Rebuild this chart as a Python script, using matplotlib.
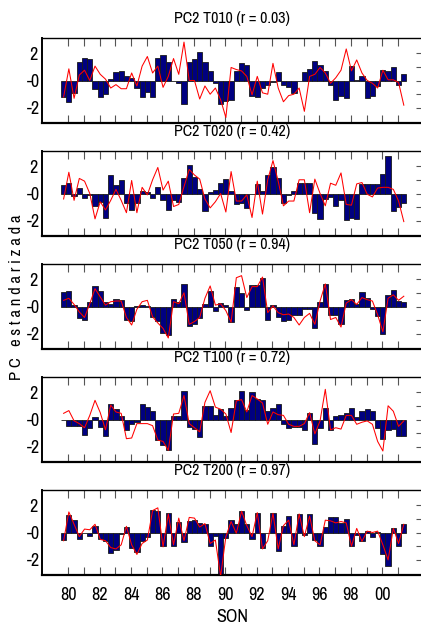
import numpy as np
import matplotlib.pyplot as plt
from matplotlib import font_manager
from matplotlib.ticker import FixedLocator, FixedFormatter

# the reference uses a narrow sans; look for one, else fall back
narrow = None
for f in font_manager.fontManager.ttflist:
    if f.style != 'normal' or f.weight not in (400, 'normal', 'regular'):
        continue
    if 'Narrow' in f.name or 'Condensed' in f.name:
        narrow = ('family', f.name)
        break
    if f.name == 'DejaVu Sans' and f.stretch in ('condensed', 'semi-condensed'):
        narrow = ('stretch', f.stretch)
if narrow is None:
    plt.rcParams['font.family'] = ['Liberation Sans', 'DejaVu Sans']
    base = 10.5
elif narrow[0] == 'family':
    plt.rcParams['font.family'] = [narrow[1], 'DejaVu Sans']
    base = 11.5
else:
    plt.rcParams['font.family'] = ['DejaVu Sans']
    plt.rcParams['font.stretch'] = narrow[1]
    base = 10.5

titles = ['PC2 T010 (r = 0.03)', 'PC2 T020 (r = 0.42)', 'PC2 T050 (r = 0.94)',
          'PC2 T100 (r = 0.72)', 'PC2 T200 (r = 0.97)']

# bars: PC2 per level, red line: the index it is compared with
bars_t010 = [-1.2, -1.6, -0.9, 1.35, 1.65, 1.55, -0.6, -1.2, -1.0, 0.1,
             0.6, 0.7, 0.3, 0.15, -0.55, -1.2, -0.85, -1.2, 1.65, 1.85,
             1.35, -0.05, -0.2, -1.7, 1.35, 1.55, 2.05, 1.35, 0.7, -0.15,
             -1.7, -1.5, -1.4, 0.7, 1.25, 1.15, -1.1, -1.2, -0.55, -0.3,
             -0.1, 0.6, -0.3, -0.45, -0.9, -0.05, 0.6, 0.85, 1.4, 1.1,
             0.7, -0.3, -1.4, -1.15, -1.3, 1.05, 0.05, 0.3, -1.3, -1.1,
             -0.4, 0.75, 0.7, 0.95, -0.35, 0.5]
line_t010 = [-1.2, 0.85, -1.3, 0.4, 0.75, 0.0, 1.05, 0.45, 0.1, -0.55,
             -0.3, -0.6, -0.6, 0.55, -0.4, 1.05, 1.75, 0.55, 1.05, -0.5,
             0.3, 1.6, 0.45, 2.8, 0.0, 0.0, -1.35, -0.4, -1.0, -0.55,
             -1.4, -2.7, 0.95, 0.8, 0.7, 0.3, -1.05, 0.3, -0.9, -1.0,
             1.25, -0.55, -1.55, -1.1, -1.0, -0.55, -2.25, 0.3, 0.45, 0.95,
             0.55, -0.2, 0.2, 0.75, 2.3, 0.7, 1.5, 0.55, 0.0, -0.2,
             -0.55, 0.75, 0.05, 0.05, -0.15, -1.8]

bars_t020 = [0.6, 0.75, -0.15, 0.4, -0.3, -0.1, -0.9, -0.6, -1.8, 1.35,
             0.6, 1.0, -0.7, -1.2, -0.7, 0.2, 0.1, -0.35, 0.5, -0.45,
             -1.2, -0.45, -0.65, 1.15, 2.1, 1.2, 0.3, -1.25, 0.1, 0.25,
             0.8, 1.05, 0.2, -0.8, -0.7, -1.05, -0.05, 0.7, 0.2, 1.35,
             1.95, 1.1, -0.7, -0.1, 0.2, 0.8, 0.8, 0.8, -1.45, -1.85,
             -0.4, -0.25, -0.9, -0.45, -1.95, -1.8, -1.85, 0.7, 0.7, 0.7,
             0.7, 1.45, 2.75, -1.3, -1.0, -0.7]
line_t020 = [-0.4, 1.55, -0.5, 1.1, 0.9, 0.0, -1.85, -0.6, -1.2, -0.5,
             0.3, -0.5, -1.4, 0.95, -1.4, 0.45, -0.1, 1.0, 1.9, 0.25,
             0.9, -0.95, -0.8, 0.5, 1.75, 1.35, 1.05, -0.4, -1.05, -0.6,
             0.0, -1.35, 1.6, -0.55, -0.55, -0.1, -1.75, 0.9, -1.5, 1.0,
             2.4, 0.9, -0.9, -0.55, -0.55, 1.0, 1.0, -1.4, 1.05, 0.0,
             -0.9, 0.75, 0.6, 1.5, -0.8, -0.85, 0.7, 0.8, -0.05, -0.25,
             0.4, 0.45, 0.45, 0.3, -0.55, -2.05]

bars_t050 = [1.05, 1.15, 0.1, -0.85, -0.95, 0.3, 1.5, 1.15, 0.35, 0.15,
             0.55, 0.45, -1.0, -1.05, 0.05, 0.1, 0.05, -0.8, -1.05, -1.9,
             -2.1, 0.55, 0.3, 1.65, -1.4, -1.3, -0.85, 0.2, 1.15, -0.3,
             0.25, 0.1, -1.15, 1.4, 0.95, -0.25, 1.6, 1.6, 2.1, -0.95,
             0.1, -0.8, -1.05, -0.95, -0.6, -0.65, -0.15, -0.15, -1.55, 0.35,
             1.65, -0.6, -0.65, -1.25, 0.45, 0.55, 0.15, 1.05, 0.65, -0.2,
             -0.7, -2.0, 0.85, 1.2, 0.4, 0.3]
line_t050 = [0.45, 0.6, 0.15, -0.4, -0.8, 0.2, 1.3, 0.7, 0.1, 0.35,
             0.4, 0.4, -0.8, -1.35, -0.2, 0.35, 0.45, -0.75, -1.2, -1.6,
             -2.3, 0.35, 0.2, 1.0, -1.3, -1.1, -0.8, 0.6, 1.5, 0.1,
             0.2, -0.3, -1.15, 2.1, 2.25, 0.65, 1.45, 1.45, 2.15, -0.45,
             0.05, -0.45, -0.6, -0.55, -0.8, -1.35, -0.8, -0.5, -1.3, 0.4,
             1.65, -0.95, -0.8, -1.5, 0.25, 0.5, 0.15, 0.65, 0.5, 0.4,
             -0.6, -1.85, 0.6, 0.85, 0.45, 0.75]

bars_t100 = [-0.05, -0.5, -0.5, -0.45, -1.1, -0.6, 0.2, -0.55, -1.2, 1.15,
             0.8, 0.25, -0.8, -0.35, -0.2, 1.15, 0.9, 0.6, -1.5, -1.85,
             -2.2, 0.25, 0.25, 2.1, -0.55, -0.7, -1.3, 0.95, 0.95, 0.3,
             0.8, 0.25, 0.85, 1.4, 2.1, 0.7, 2.0, 1.5, 1.4, 0.65,
             0.85, 1.1, -0.3, -0.65, -0.55, -0.55, -0.8, 0.45, -1.8, -0.65,
             0.85, -0.75, 0.25, 0.35, 0.45, 0.85, 0.2, 0.6, 0.8, 0.6,
             -0.6, -1.45, -0.75, -0.7, -1.2, -1.2]
line_t100 = [0.45, 0.65, -0.1, -0.3, -0.6, 0.3, 1.4, 0.5, -0.75, 1.05,
             0.55, 0.45, -1.4, -1.35, -0.3, -0.3, -0.3, -0.45, -1.5, -1.6,
             -2.25, 0.4, 0.45, 1.75, -0.3, -0.6, -0.9, 1.25, 2.1, 0.9,
             0.75, 0.4, -0.95, 1.35, 1.45, 0.55, 1.75, 1.5, 1.2, -0.35,
             0.55, 0.35, 0.3, -0.35, -0.5, -0.5, -0.3, 0.5, -1.05, -0.1,
             2.2, -0.75, -0.6, -0.7, 0.3, 0.3, -0.35, -0.2, -0.1, -0.35,
             -1.6, -2.3, 1.0, 0.6, -0.5, -0.1]

bars_t200 = [-0.55, 1.3, 0.9, -0.5, -0.05, -0.25, 0.5, -0.5, -0.6, -1.5,
             -1.3, -0.1, 0.4, -1.1, -1.4, -0.6, -0.35, 1.65, 1.6, -1.0,
             1.4, -1.0, 0.8, -0.7, 0.85, 0.9, 0.7, 0.65, -0.95, -0.25,
             -3.1, -0.4, 0.9, 0.6, 1.6, 0.6, -0.5, 1.45, -1.1, -0.05,
             1.45, -1.35, 0.5, 1.2, -0.95, 1.35, -0.2, 1.35, -0.55, -0.95,
             0.4, 1.15, 1.15, 0.7, 0.95, -1.0, -0.2, -0.6, 0.1, -0.3,
             0.05, -1.55, -2.45, 0.3, -0.95, 0.65]
line_t200 = [-0.6, 1.5, 0.6, -0.3, 0.25, 0.2, 0.6, -0.5, -0.6, -1.1,
             -1.2, -0.9, 0.45, -0.9, -1.6, -0.8, -0.55, 1.6, 1.8, -1.05,
             1.35, -0.9, 1.05, -0.6, 1.1, 1.05, 0.4, 0.65, -0.8, -0.55,
             -3.2, -0.3, 0.8, -0.05, 1.55, 0.5, -0.3, 1.45, -1.2, -0.6,
             1.4, -1.2, 0.5, 0.9, -0.9, 1.35, -0.3, 1.2, -0.6, -0.9,
             0.9, 0.85, 0.7, 0.8, 0.7, -1.0, 0.3, -0.65, 0.1, 0.0,
             0.1, -0.9, -2.0, 0.3, -0.8, 0.6]

all_bars = [bars_t010, bars_t020, bars_t050, bars_t100, bars_t200]
all_lines = [line_t010, line_t020, line_t050, line_t100, line_t200]

year_ticks = list(range(1980, 2001, 2))
year_labels = ['80', '82', '84', '86', '88', '90', '92', '94', '96', '98', '00']

# three values per year, starting autumn 1979
t = 1979.54 + (np.arange(len(bars_t010)) + 0.5) / 3

W, H = 421, 626
fig = plt.figure(figsize=(W / 100, H / 100), dpi=100)

for k in range(5):
    top = 38 + 113 * k
    ax = fig.add_axes([42 / W, 1 - (top + 85) / H, 379.5 / W, 85 / H])
    ax.bar(t, all_bars[k], width=1 / 3, color='#000080', edgecolor='#1a1a1a',
           linewidth=0.6, zorder=2)
    ax.plot(t, all_lines[k], color='red', lw=0.75, zorder=3)

    ax.set_xlim(1978.33, 2002.5)
    ax.set_ylim(-3.1, 3.1)

    ax.xaxis.set_major_locator(FixedLocator(year_ticks))
    ax.xaxis.set_minor_locator(FixedLocator(range(1980, 2002)))
    ax.yaxis.set_major_locator(FixedLocator([-2, 0, 2]))
    ax.yaxis.set_major_formatter(FixedFormatter(['-2', '-0', '2']))
    ax.yaxis.set_minor_locator(FixedLocator([-1, 1]))

    ax.tick_params(axis='x', which='both', direction='in', top=True, bottom=True,
                   length=6, width=0.8, color='#555555', pad=9,
                   labelbottom=(k == 4), labelsize=base + 1.5)
    ax.tick_params(axis='y', which='both', direction='in', left=False, right=True,
                   length=4, width=0.8, color='#555555', pad=6,
                   labelsize=base + 1.5)
    for lab in ax.get_yticklabels():
        lab.set_horizontalalignment('center')
    if k == 4:
        ax.set_xticklabels(year_labels)

    ax.spines['right'].set_visible(False)
    ax.spines['top'].set_linewidth(1.0)
    ax.spines['left'].set_linewidth(1.4)
    ax.spines['bottom'].set_linewidth(1.6)

    ax.set_title(titles[k], fontsize=base, pad=10.5)

fig.text(232 / W, 1 - 617 / H, 'SON', ha='center', va='center', fontsize=base + 1.5)
fig.text(17 / W, 1 - 297 / H, 'P C   e s t a n d a r i z a d a', rotation=90,
         ha='center', va='center', fontsize=base + 0.5)

fig.savefig('out.png', dpi=100)
